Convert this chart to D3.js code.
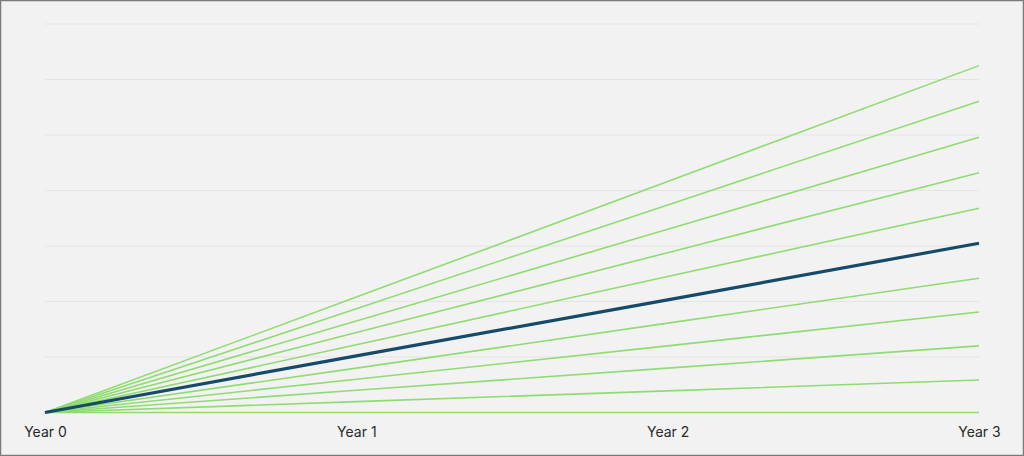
<!DOCTYPE html>
<html><head><meta charset="utf-8">
<script src="https://cdn.jsdelivr.net/npm/d3@7"></script>
<style>
html,body{margin:0;padding:0;background:#f2f2f2;}
svg{display:block;}
</style></head>
<body>
<svg id="chart" width="1024" height="456"></svg>
<script>
const years = ["Year 0", "Year 1", "Year 2", "Year 3"];
const gridTicks = [0, 5, 10, 15, 20, 25, 30, 35];
// green scenario lines (values read at each year)
const s0  = [0, 0, 0, 0];
const s1  = [0, 0.98, 1.95, 2.93];
const s2  = [0, 2.0, 4.0, 6.0];
const s3  = [0, 3.0, 6.0, 9.05];
const s4  = [0, 4.0, 8.05, 12.1];
const s6  = [0, 6.1, 12.25, 18.4];
const s7  = [0, 7.2, 14.4, 21.6];
const s8  = [0, 8.25, 16.5, 24.8];
const s9  = [0, 9.35, 18.7, 28.05];
const s10 = [0, 10.4, 20.8, 31.25];
// highlighted (dark) line
const base = [0, 5.1, 10.15, 15.25];
const greenSeries = [s0, s1, s2, s3, s4, s6, s7, s8, s9, s10];

const svg = d3.select("#chart");
const W = 1024, H = 456;
svg.append("rect").attr("x",0.5).attr("y",0.5).attr("width",W-1).attr("height",H-1)
  .attr("fill","#f2f2f2").attr("stroke","#7a7a7a").attr("stroke-width",1.5);

const x = d3.scalePoint().domain(years).range([45, 979]);
const y = d3.scaleLinear().domain([0, 35]).range([412.5, 24]);

svg.append("g").selectAll("line").data(gridTicks).join("line")
  .attr("x1", 45).attr("x2", 979)
  .attr("y1", d => y(d)).attr("y2", d => y(d))
  .attr("stroke", "#e4e4e4").attr("stroke-width", 1);

const line = d3.line().x((d,i) => x(years[i])).y(d => y(d));

svg.append("g").selectAll("path").data(greenSeries).join("path")
  .attr("d", line).attr("fill","none")
  .attr("stroke","#8fdc70").attr("stroke-width",1.6);

svg.append("path").datum(base).attr("d", line).attr("fill","none")
  .attr("stroke","#154b68").attr("stroke-width",3.2).attr("stroke-linecap","butt");

const xAxis = svg.append("g").attr("transform", "translate(0,432)")
  .call(d3.axisBottom(x).tickSize(0).tickPadding(0));
xAxis.select(".domain").remove();
xAxis.selectAll("text")
  .attr("dy","0.35em").attr("y",0)
  .attr("fill","#2a2a2a").attr("font-size","14px")
  .attr("font-family","Inter, 'Noto Sans', sans-serif");
</script>
</body></html>
